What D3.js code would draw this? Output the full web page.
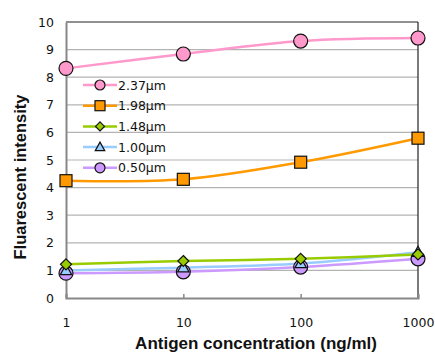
<!DOCTYPE html>
<html><head><meta charset="utf-8">
<script src="https://cdn.jsdelivr.net/npm/d3@7"></script>
<style>body{margin:0;background:#fff}</style>
</head><body>
<script>
const concentrations = [1, 10, 100, 1000];
const seriesNames = ["2.37µm", "1.98µm", "1.48µm", "1.00µm", "0.50µm"];
const v237 = [8.32, 8.84, 9.31, 9.42];
const v198 = [4.25, 4.30, 4.92, 5.79];
const v148 = [1.22, 1.34, 1.42, 1.58];
const v100 = [1.00, 1.10, 1.25, 1.66];
const v050 = [0.90, 0.95, 1.12, 1.42];
const yTicks = [0,1,2,3,4,5,6,7,8,9,10];
const xTickLabels = ["1","10","100","1000"];

const colors = ["#ff99cc","#ff9900","#99cc00","#99ccff","#cc99ff"];
const shapes = ["circle","square","diamond","triangle","circle"];
const values = [v237, v198, v148, v100, v050];

const W = 435, H = 354;
const m = {l:66, r:17, t:22, b:56};
const svg = d3.select("body").append("svg").attr("width",W).attr("height",H);
const x = d3.scaleLog().domain([1,1000]).range([m.l, W-m.r]);
const y = d3.scaleLinear().domain([0,10]).range([H-m.b, m.t]);

// gridlines
svg.append("g").selectAll("line").data(yTicks.slice(1,-1)).join("line")
  .attr("x1",m.l).attr("x2",W-m.r).attr("y1",d=>y(d)).attr("y2",d=>y(d))
  .attr("stroke","#b3b3b3").attr("stroke-width",1.2);
// top and right border
svg.append("line").attr("x1",m.l).attr("x2",W-m.r).attr("y1",y(10)).attr("y2",y(10)).attr("stroke","#222").attr("stroke-width",1.2);
svg.append("line").attr("x1",W-m.r).attr("x2",W-m.r).attr("y1",y(10)).attr("y2",y(0)).attr("stroke","#222").attr("stroke-width",1.2);

// y axis
const ya = svg.append("g").attr("transform",`translate(${m.l},0)`)
  .call(d3.axisLeft(y).tickValues(yTicks).tickSize(0).tickPadding(12).tickFormat(d3.format("d")));
ya.select(".domain").attr("stroke","#888").attr("stroke-width",2);
ya.selectAll("text").attr("font-family","DejaVu Sans, Verdana, sans-serif").attr("font-size",12.5).attr("fill","#111");

// x axis
const xa = svg.append("g").attr("transform",`translate(0,${y(0)})`)
  .call(d3.axisBottom(x).tickValues(concentrations).tickSize(-4).tickPadding(20).tickFormat((d,i)=>xTickLabels[i]));
xa.select(".domain").attr("stroke","#888").attr("stroke-width",2);
xa.selectAll(".tick line").attr("stroke","#888").attr("stroke-width",1.5);
xa.selectAll("text").attr("font-family","DejaVu Sans, Verdana, sans-serif").attr("font-size",12.5).attr("fill","#111");

// titles
svg.append("text").attr("x",256).attr("y",349).attr("text-anchor","middle")
  .attr("font-family","Liberation Sans, Arial, sans-serif").attr("font-weight","bold").attr("font-size",17)
  .attr("fill","#111").text("Antigen concentration (ng/ml)");
svg.append("text").attr("transform","translate(26,177) rotate(-90)").attr("text-anchor","middle")
  .attr("font-family","Liberation Sans, Arial, sans-serif").attr("font-weight","bold").attr("font-size",16.5)
  .attr("fill","#111").text("Fluarescent intensity");

function marker(g, shape, color, s){
  if(shape==="circle") g.append("circle").attr("r",s).attr("fill",color).attr("stroke","#111").attr("stroke-width",1.2);
  else if(shape==="square") g.append("rect").attr("x",-s).attr("y",-s).attr("width",2*s).attr("height",2*s).attr("fill",color).attr("stroke","#111").attr("stroke-width",1.2);
  else if(shape==="diamond") g.append("path").attr("d",`M0,${-s}L${s},0L0,${s}L${-s},0Z`).attr("fill",color).attr("stroke","#111").attr("stroke-width",1.2);
  else if(shape==="triangle") g.append("path").attr("d",`M0,${-s}L${s*0.95},${s*0.7}L${-s*0.95},${s*0.7}Z`).attr("fill",color).attr("stroke","#111").attr("stroke-width",1.2);
}
const sizes = [7,6,5.5,6,7];

const line = d3.line().x((d,i)=>x(concentrations[i])).y(d=>y(d)).curve(d3.curveCatmullRom.alpha(0.5));
for(let k=values.length-1;k>=0;k--){
  svg.append("path").datum(values[k]).attr("d",line).attr("fill","none")
    .attr("stroke",colors[k]).attr("stroke-width",2.5);
}
for(let k=values.length-1;k>=0;k--){
  values[k].forEach((v,i)=>{
    const g = svg.append("g").attr("transform",`translate(${x(concentrations[i])},${y(v)})`);
    marker(g, shapes[k], colors[k], sizes[k]);
  });
}

// legend
const lg = svg.append("g");
seriesNames.forEach((n,k)=>{
  const yy = 85 + k*20.7;
  lg.append("line").attr("x1",83).attr("x2",117).attr("y1",yy).attr("y2",yy).attr("stroke",colors[k]).attr("stroke-width",2.5);
  const g = lg.append("g").attr("transform",`translate(100,${yy})`);
  marker(g, shapes[k], colors[k], [5,5,4.5,5,5][k]);
  lg.append("text").attr("x",118).attr("y",yy+4.5).attr("font-family","DejaVu Sans, Verdana, sans-serif")
    .attr("font-size",12.5).attr("fill","#111").text(n);
});
</script>
</body></html>
